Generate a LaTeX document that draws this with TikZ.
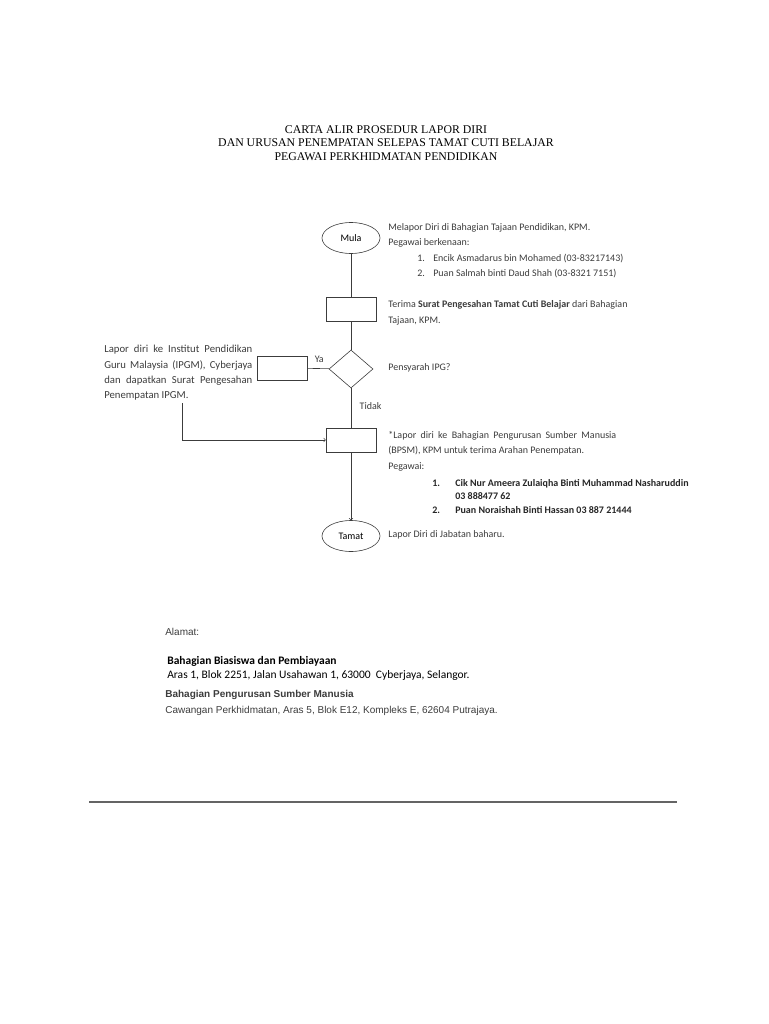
\documentclass[tikz,border=0pt]{standalone}
\usepackage{fontspec}
\setmainfont{Carlito}
\newfontfamily\titlefont{Liberation Serif}
\newfontfamily\arialfont{Liberation Sans}
\usepackage{tikz}
\usetikzlibrary{arrows,positioning,shapes.geometric}
\definecolor{inkgray}{RGB}{60,60,60}
\definecolor{rulegray}{RGB}{100,100,100}

\begin{document}
\begin{tikzpicture}[x=1pt, y=-1pt, line width=0.6pt, draw=inkgray, >=to,
    terminal/.style={ellipse, draw, inner sep=0pt, minimum width=58pt, minimum height=31pt, font=\fontsize{10}{12}\selectfont},
    procbox/.style={rectangle, draw, inner sep=0pt, minimum width=50pt, minimum height=24pt},
    decision/.style={diamond, draw, inner sep=0pt, minimum width=44pt, minimum height=38pt},
    note/.style={anchor=north west, inner sep=0pt, align=left, text=inkgray, font=\fontsize{10}{15.5}\selectfont}]

\useasboundingbox (0,0) rectangle (768,1024);

% title
\node[align=center, inner sep=0pt, font=\titlefont\fontsize{11.8}{13.5}\selectfont] (title) at (386,143)
  {CARTA ALIR PROSEDUR LAPOR DIRI\\DAN URUSAN PENEMPATAN SELEPAS TAMAT CUTI BELAJAR\\PEGAWAI PERKHIDMATAN PENDIDIKAN};

% flowchart
\node[terminal] (mula) at (351,238) {Mula};
\node[procbox] (surat) at (351,309) {};
\node[decision] (ipg) at (351,369) {};
\node[procbox] (ipgm) at (282,368) {};
\node[procbox] (bpsm) at (351,440) {};
\node[terminal] (tamat) at (351,536) {Tamat};
\coordinate (turun) at (182,403);

\draw (mula) -- (surat);
\draw (surat) -- (ipg);
\draw (ipg) -- (ipgm) node[pos=0.45, above=2pt, font=\fontsize{10}{12}\selectfont, text=inkgray] {Ya};
\draw (ipg) -- (bpsm) node[pos=0.45, right=5pt, font=\fontsize{10}{12}\selectfont, text=inkgray] {Tidak};
\draw[->] (turun) |- (bpsm);
\draw[->] (bpsm) -- (tamat);

% notes
\node[note] (mulatext) at (388,223) {Melapor Diri di Bahagian Tajaan Pendidikan, KPM.\\Pegawai berkenaan:\\
  \hspace*{29pt}\makebox[16pt][l]{1.}Encik Asmadarus bin Mohamed (03-83217143)\\
  \hspace*{29pt}\makebox[16pt][l]{2.}Puan Salmah binti Daud Shah (03-8321 7151)};
\node[note, font=\fontsize{10}{16.5}\selectfont] (surattext) at (388,300) {Terima \textbf{Surat Pengesahan Tamat Cuti Belajar} dari Bahagian\\Tajaan, KPM.};
\node[note, anchor=west] (ipgtext) at (388,368) {Pensyarah IPG?};
\node[note, align=justify, text width=148pt, font=\fontsize{10.7}{15.3}\selectfont] (ipgmtext) at (104,345) {Lapor diri ke Institut Pendidikan\linebreak Guru Malaysia (IPGM), Cyberjaya\linebreak dan dapatkan Surat Pengesahan\linebreak Penempatan IPGM.};
\node[note] (bpsmtext) at (388,431) {\makebox[228pt][s]{*Lapor diri ke Bahagian Pengurusan Sumber Manusia}\\(BPSM), KPM untuk terima Arahan Penempatan.\\Pegawai:};
\node[note, text=black!85, font=\bfseries\fontsize{10}{13.5}\selectfont] (pegawai) at (432,479)
  {\makebox[23pt][l]{1.}Cik Nur Ameera Zulaiqha Binti Muhammad Nasharuddin\\
   \hspace*{23pt}03 888477 62\\
   \makebox[23pt][l]{2.}Puan Noraishah Binti Hassan 03 887 21444};
\node[note, anchor=west] (tamattext) at (388,535) {Lapor Diri di Jabatan baharu.};

% alamat
\node[note, font=\arialfont\fontsize{10}{11}\selectfont] (alamat) at (165,628) {Alamat:};
\node[note, text=black, font=\fontsize{11.5}{14}\selectfont] (biasiswa) at (167,656)
  {\textbf{Bahagian Biasiswa dan Pembiayaan}\\Aras 1, Blok 2251, Jalan Usahawan 1, 63000~ Cyberjaya, Selangor.};
\node[note, font=\arialfont\fontsize{10}{16}\selectfont] (bpsmaddr) at (165,690)
  {\textbf{Bahagian Pengurusan Sumber Manusia}\\Cawangan Perkhidmatan, Aras 5, Blok E12, Kompleks E, 62604 Putrajaya.};

% rule
\coordinate (ruleL) at (89,802);
\coordinate (ruleR) at (677,802);
\draw[rulegray, line width=1.5pt] (ruleL) -- (ruleR);
\end{tikzpicture}
\end{document}
